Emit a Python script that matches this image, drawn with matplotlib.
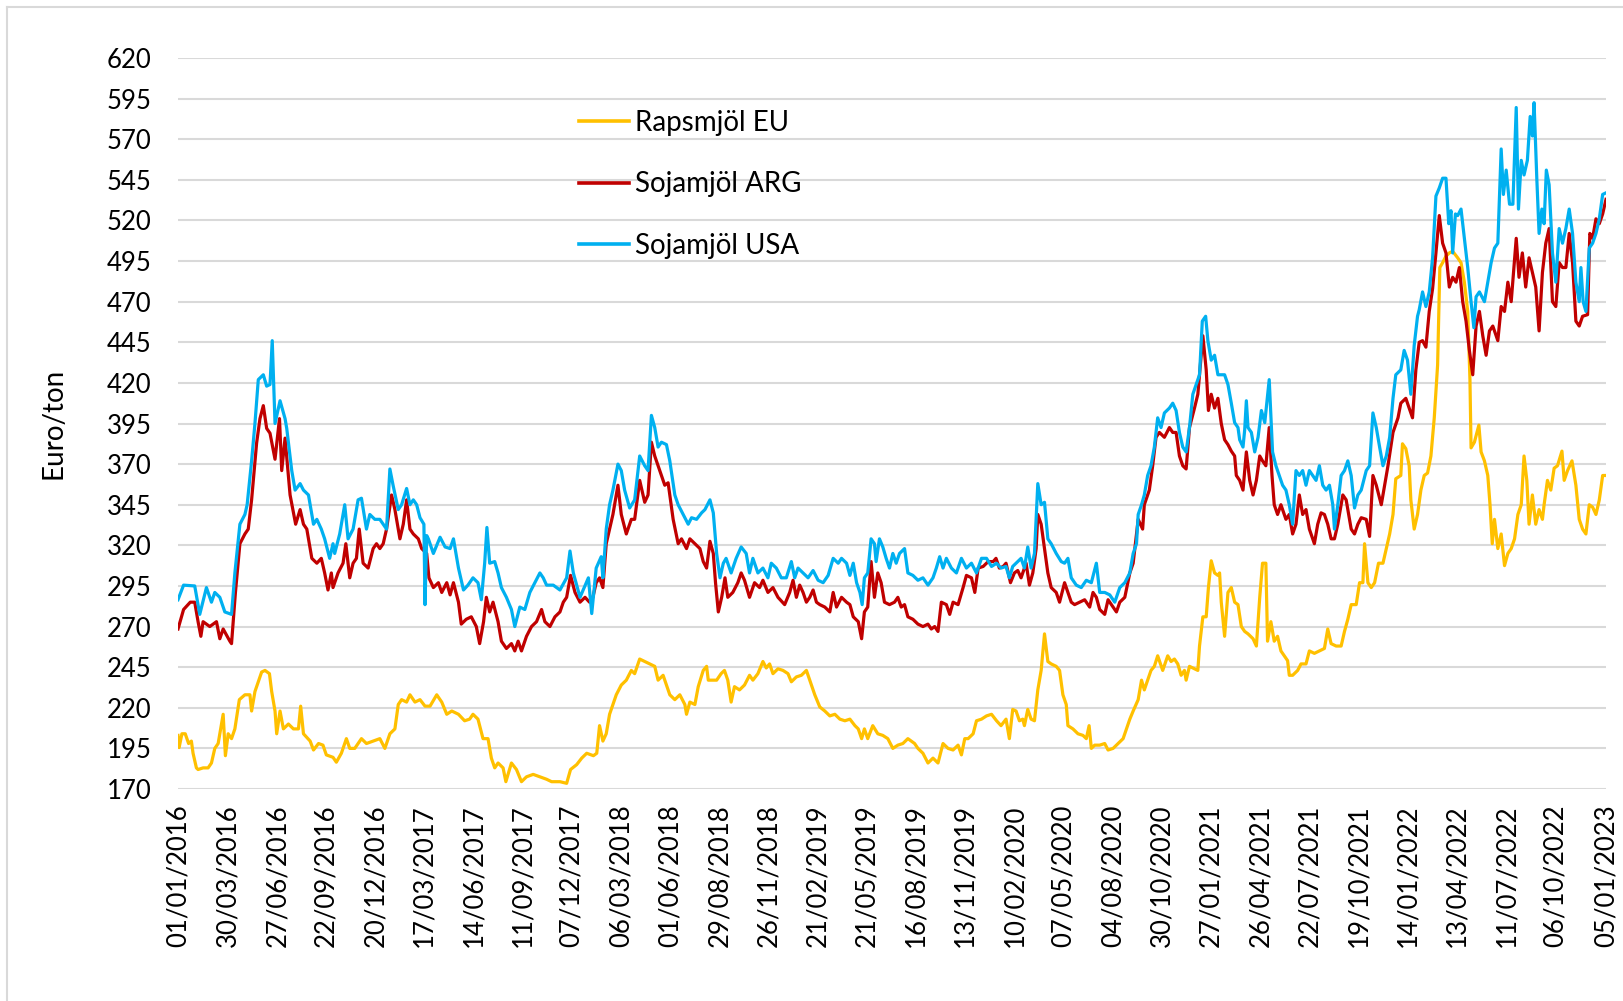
import matplotlib
matplotlib.use("Agg")
import matplotlib.pyplot as plt
import pandas as pd
from matplotlib.lines import Line2D

plt.rcParams['font.family'] = ['Lato', 'DejaVu Sans']

# ---------------- data (day = days since 01/01/2016) ----------------
tick_labels = ["01/01/2016", "30/03/2016", "27/06/2016", "22/09/2016", "20/12/2016",
               "17/03/2017", "14/06/2017", "11/09/2017", "07/12/2017", "06/03/2018",
               "01/06/2018", "29/08/2018", "26/11/2018", "21/02/2019", "21/05/2019",
               "16/08/2019", "13/11/2019", "10/02/2020", "07/05/2020", "04/08/2020",
               "30/10/2020", "27/01/2021", "26/04/2021", "22/07/2021", "19/10/2021",
               "14/01/2022", "13/04/2022", "11/07/2022", "06/10/2022", "05/01/2023"]
y_ticks = list(range(170, 621, 25))

usa_day = [0, 10, 30, 39, 51, 60, 66, 75, 84, 96, 102, 111, 120, 124, 132, 138, 144, 153, 159, 165,
           169, 174, 183, 192, 195, 204, 210, 219, 225, 234, 243, 249, 257, 263, 272, 278, 281, 290, 299, 305,
           314, 323, 329, 338, 344, 353, 362, 368, 374, 380, 386, 395, 401, 410, 416, 422, 428, 434, 441, 443,
           446, 449, 458, 470, 479, 488, 494, 503, 512, 520, 529, 538, 544, 550, 554, 559, 568, 574, 580, 589,
           598, 604, 613, 622, 631, 640, 649, 655, 661, 673, 685, 697, 703, 709, 721, 736, 742, 750, 759, 762,
           768, 774, 780, 789, 795, 801, 810, 819, 828, 837, 843, 849, 855, 861, 867, 876, 882, 891, 897, 906,
           915, 921, 930, 939, 945, 954, 960, 966, 972, 978, 983, 992, 1001, 1010, 1019, 1025, 1031, 1040, 1049, 1058,
           1064, 1073, 1082, 1091, 1100, 1106, 1112, 1121, 1130, 1139, 1148, 1157, 1166, 1175, 1184, 1190, 1199, 1205, 1211, 1217,
           1223, 1227, 1231, 1237, 1243, 1249, 1252, 1258, 1264, 1270, 1276, 1282, 1288, 1294, 1303, 1309, 1318, 1327, 1336, 1345,
           1354, 1360, 1366, 1372, 1378, 1387, 1396, 1405, 1414, 1423, 1432, 1441, 1450, 1459, 1468, 1476, 1485, 1491, 1497, 1506,
           1512, 1518, 1524, 1530, 1536, 1542, 1548, 1554, 1560, 1566, 1575, 1584, 1590, 1596, 1602, 1611, 1620, 1629, 1638, 1647,
           1653, 1662, 1671, 1680, 1689, 1698, 1707, 1713, 1719, 1722, 1728, 1733, 1739, 1745, 1751, 1757, 1763, 1769, 1778, 1784,
           1790, 1796, 1802, 1808, 1814, 1820, 1826, 1832, 1837, 1843, 1847, 1853, 1859, 1865, 1871, 1877, 1883, 1889, 1895, 1901,
           1904, 1910, 1913, 1916, 1919, 1925, 1931, 1937, 1943, 1949, 1957, 1963, 1969, 1975, 1981, 1987, 1993, 1999, 2005, 2011,
           2017, 2023, 2029, 2035, 2041, 2047, 2053, 2059, 2065, 2071, 2074, 2080, 2086, 2092, 2098, 2104, 2110, 2116, 2122, 2131,
           2137, 2143, 2149, 2155, 2161, 2167, 2173, 2179, 2184, 2193, 2199, 2205, 2211, 2217, 2223, 2226, 2232, 2238, 2244, 2250,
           2256, 2262, 2268, 2274, 2279, 2283, 2286, 2291, 2295, 2301, 2307, 2313, 2319, 2324, 2328, 2334, 2343, 2349, 2355, 2361,
           2367, 2373, 2377, 2382, 2388, 2394, 2400, 2404, 2409, 2414, 2420, 2425, 2429, 2432, 2437, 2441, 2446, 2450, 2454, 2459,
           2465, 2471, 2477, 2483, 2489, 2495, 2501, 2507, 2513, 2516, 2520, 2525, 2531, 2537, 2543, 2549, 2555, 2561]
usa_val = [286.5, 295.5, 295, 277.5, 294, 285, 291, 288, 279, 277.5, 303, 333, 339, 345, 372, 395, 422, 425, 418, 419,
           446, 395, 409, 398, 392, 366, 354, 358, 354, 351, 333, 336, 330, 324, 312, 321, 315, 327, 345, 324,
           330, 348, 349, 330, 339, 336, 336, 333, 330, 367, 356.5, 342, 345, 355, 345, 348, 345, 337, 333, 283.5,
           326, 324, 315, 325, 319, 318, 324, 306, 292.5, 295.5, 300, 297, 286.5, 309, 331, 309, 310, 303, 294, 288,
           280.5, 270, 282, 280.5, 291, 297, 303, 300, 295.5, 295.5, 292.5, 300, 316.5, 303, 288, 300, 278, 306, 313, 300,
           330, 345, 354, 370, 366, 354, 343, 348, 375, 369, 366, 400, 392.5, 380.5, 383.5, 382, 372, 351, 345, 339,
           333, 337, 336, 340, 342, 348, 340, 315, 300, 309, 312, 303, 312, 319, 315, 303, 312, 303, 306, 300,
           309, 306, 300, 300, 310, 300, 306, 303, 300, 304.5, 298.5, 297, 301.5, 312, 309, 312, 309, 301.5, 309, 297,
           291, 283.5, 300, 303, 324, 321, 310, 324, 319, 312, 306, 315, 309, 315, 318, 303, 301.5, 298.5, 300, 295.5,
           300, 306, 313, 306, 312, 306, 303, 312, 306, 309, 303, 312, 312, 307, 309, 306, 307, 300, 307, 310,
           312, 306, 319, 306, 315, 358, 345, 346.5, 324, 321, 315, 310, 309, 312, 300, 295.5, 294, 298.5, 297, 309,
           291, 291, 289.5, 285, 294, 297, 303, 315, 321, 339, 345, 351, 363, 369, 380.5, 398.5, 392.5, 401.5, 404.5, 407.5,
           403, 389.5, 380.5, 377.5, 392.5, 413, 419, 425, 458, 461, 446, 434, 437, 425, 425, 425, 419, 407.5, 395.5, 392.5,
           385, 380.5, 391, 409, 392.5, 389.5, 377.5, 386.5, 403, 395.5, 422, 377.5, 369, 363, 357, 354, 345, 333, 366, 363,
           366, 357, 366, 363, 360, 369, 357, 354, 357, 345, 330, 345, 363, 366, 372, 363, 343, 351, 354, 366,
           369, 401.5, 392.5, 380.5, 369, 375, 386.5, 410.5, 425, 428, 440, 434, 413, 443, 461, 465, 476, 467, 476, 497,
           535, 540, 546, 546, 518, 526, 500, 524, 523, 527, 509, 491, 470, 454, 473, 476, 470, 482, 494, 503,
           506, 564, 536, 551, 530, 530, 589.5, 527, 557, 548, 557, 584, 572, 592.5, 545, 512, 527, 518, 551, 542,
           500, 482, 515, 506, 515, 527, 512, 482, 470, 491, 470, 464, 503, 506, 512, 521, 536, 537]

arg_day = [0, 10, 22, 30, 36, 41, 45, 57, 69, 75, 81, 93, 96, 103, 111, 120, 126, 132, 141, 147,
           153, 159, 165, 174, 182, 186, 192, 201, 211, 219, 225, 231, 240, 249, 257, 263, 269, 275, 278, 287,
           296, 301, 308, 314, 320, 325, 332, 341, 350, 356, 362, 368, 374, 383, 389, 398, 404, 410, 416, 422,
           431, 437, 446, 450, 458, 467, 473, 482, 488, 494, 503, 508, 517, 526, 535, 541, 548, 553, 559, 565,
           574, 580, 589, 598, 604, 610, 616, 625, 634, 643, 652, 658, 667, 676, 685, 691, 697, 704, 712, 721,
           730, 738, 744, 750, 756, 762, 768, 774, 780, 789, 795, 804, 813, 819, 828, 837, 843, 849, 855, 864,
           873, 879, 888, 897, 903, 912, 918, 927, 936, 942, 948, 954, 960, 964, 969, 975, 981, 986, 995, 1004,
           1010, 1016, 1025, 1034, 1043, 1049, 1058, 1067, 1076, 1088, 1097, 1103, 1109, 1115, 1121, 1127, 1133, 1139, 1145, 1151,
           1160, 1169, 1175, 1181, 1190, 1199, 1205, 1211, 1220, 1226, 1231, 1237, 1243, 1249, 1255, 1261, 1267, 1276, 1285, 1291,
           1297, 1303, 1309, 1318, 1327, 1336, 1345, 1351, 1357, 1363, 1369, 1378, 1384, 1390, 1399, 1408, 1414, 1423, 1429, 1435,
           1444, 1453, 1462, 1467, 1473, 1480, 1485, 1493, 1500, 1506, 1512, 1521, 1527, 1533, 1539, 1542, 1548, 1554, 1560, 1566,
           1575, 1581, 1590, 1596, 1602, 1608, 1617, 1626, 1635, 1641, 1647, 1653, 1662, 1668, 1674, 1683, 1689, 1698, 1707, 1713,
           1722, 1730, 1733, 1742, 1748, 1754, 1760, 1769, 1778, 1784, 1790, 1796, 1802, 1808, 1814, 1823, 1829, 1838, 1844, 1848,
           1853, 1859, 1865, 1871, 1877, 1883, 1889, 1895, 1898, 1904, 1910, 1916, 1922, 1928, 1934, 1940, 1945, 1951, 1957, 1962,
           1966, 1972, 1978, 1987, 1993, 1999, 2005, 2011, 2017, 2023, 2029, 2038, 2044, 2050, 2056, 2062, 2068, 2074, 2080, 2089,
           2095, 2104, 2110, 2116, 2122, 2131, 2137, 2143, 2149, 2158, 2164, 2170, 2179, 2188, 2193, 2202, 2208, 2214, 2220, 2226,
           2232, 2238, 2244, 2250, 2256, 2262, 2268, 2274, 2280, 2286, 2292, 2298, 2304, 2310, 2316, 2322, 2328, 2334, 2340, 2346,
           2352, 2358, 2367, 2373, 2379, 2385, 2391, 2400, 2405, 2411, 2417, 2423, 2429, 2435, 2441, 2447, 2453, 2459, 2465, 2471,
           2477, 2483, 2489, 2495, 2501, 2507, 2513, 2519, 2528, 2532, 2537, 2543, 2549, 2555, 2561]
arg_val = [268.5, 280.5, 285, 285, 273, 264, 273, 270, 273, 262.5, 268.5, 261, 259.5, 291, 321, 327, 330, 348, 383, 398,
           406, 392, 389, 373, 398, 366, 386, 351, 333, 342, 333, 330, 312, 309, 312, 303, 292.5, 303, 294, 303,
           309, 321, 300, 309, 312, 330, 309, 306, 318, 321, 318, 321, 330, 351, 342, 324, 333, 348, 330, 327,
           324, 318, 315, 300, 294, 297, 291, 297, 289.5, 297, 285, 271.5, 274.5, 276, 270, 259.5, 273, 288, 279, 285,
           273, 261, 256.5, 259.5, 255, 261, 255, 264, 270, 273, 280.5, 273, 270, 276, 279, 285, 288, 301.5, 291, 285,
           288, 285, 288, 297, 300, 294, 321, 330, 339, 357, 339, 327, 336, 336, 360, 346.5, 351, 383.5, 375, 366,
           357, 358.5, 336, 321, 324, 318, 324, 321, 318, 310, 306, 322.5, 315, 297, 279, 288, 300, 288, 291, 297,
           303, 298.5, 288, 297, 294, 298.5, 291, 294, 288, 283.5, 291, 298.5, 288, 295.5, 291, 285, 288, 292.5, 285, 283.5,
           282, 279, 291, 282, 288, 285, 283.5, 276, 273, 262.5, 279, 282, 310, 288, 303, 297, 285, 283.5, 285, 288,
           282, 283.5, 276, 274.5, 271.5, 270, 271.5, 268.5, 270, 267, 285, 283.5, 277.5, 285, 283.5, 294, 301.5, 300, 291, 306,
           307, 310, 310, 312, 306, 307, 309, 297, 303, 304.5, 300, 309, 295.5, 303, 318, 339, 333, 318, 303, 294,
           291, 285, 297, 291, 285, 283.5, 285, 286.5, 282, 291, 288, 280.5, 277.5, 286.5, 283.5, 279, 285, 288, 303, 309,
           336, 330, 345, 354, 369, 386.5, 389.5, 386.5, 392.5, 389.5, 389.5, 375, 369, 367, 392.5, 404.5, 413, 449, 428, 403,
           413, 404.5, 410.5, 395, 385, 382, 378, 375, 363, 360, 354, 377.5, 360, 351, 360, 375, 372, 369, 392.5, 363,
           345, 339, 345, 336, 339, 327, 333, 351, 339, 342, 330, 321, 333, 340, 339, 333, 324, 324, 333, 351,
           348, 330, 327, 333, 337, 336, 325.5, 363, 357, 345, 357, 369, 389.5, 398.5, 407.5, 410.5, 404.5, 398.5, 428, 445,
           446, 442, 464, 478, 500, 523, 506, 500, 479, 485, 482, 491, 470, 458, 440, 425, 455, 464, 449, 437,
           452, 455, 446, 467, 464, 482, 470, 509, 485, 500, 479, 497, 488, 479, 452, 488, 506, 515, 470, 467,
           494, 491, 491, 512, 494, 458, 455, 461, 462, 512, 509, 521, 518, 524, 533]

eu_day = [0, 2, 7, 13, 19, 24, 27, 33, 36, 45, 54, 60, 66, 72, 81, 85, 90, 96, 102, 110,
          120, 129, 132, 138, 150, 156, 164, 168, 174, 177, 183, 189, 198, 207, 216, 220, 225, 237, 243, 252,
          260, 266, 278, 284, 293, 302, 308, 317, 329, 338, 350, 362, 371, 380, 389, 395, 401, 410, 416, 425,
          434, 443, 452, 464, 473, 482, 491, 503, 514, 523, 529, 538, 547, 556, 562, 568, 574, 583, 588, 598,
          607, 616, 625, 637, 649, 661, 670, 685, 697, 704, 715, 724, 733, 745, 751, 756, 762, 768, 774, 780,
          786, 795, 804, 813, 819, 828, 837, 846, 855, 861, 870, 882, 891, 900, 909, 912, 918, 927, 933, 942,
          948, 951, 957, 966, 974, 980, 986, 992, 998, 1007, 1016, 1025, 1031, 1040, 1049, 1055, 1061, 1067, 1076, 1085,
          1094, 1100, 1109, 1118, 1127, 1133, 1142, 1151, 1160, 1169, 1178, 1187, 1196, 1205, 1214, 1220, 1226, 1231, 1237, 1246,
          1255, 1264, 1273, 1282, 1291, 1300, 1309, 1321, 1327, 1336, 1345, 1354, 1363, 1372, 1381, 1390, 1399, 1405, 1411, 1417,
          1426, 1432, 1441, 1450, 1459, 1468, 1476, 1485, 1491, 1497, 1503, 1509, 1515, 1518, 1524, 1530, 1536, 1542, 1548, 1554,
          1560, 1566, 1575, 1581, 1587, 1593, 1596, 1605, 1614, 1623, 1629, 1634, 1638, 1644, 1653, 1662, 1668, 1677, 1686, 1695,
          1701, 1707, 1713, 1722, 1728, 1733, 1739, 1745, 1751, 1757, 1766, 1775, 1781, 1787, 1793, 1799, 1805, 1808, 1814, 1823,
          1829, 1832, 1838, 1844, 1848, 1853, 1859, 1865, 1868, 1871, 1877, 1883, 1889, 1895, 1901, 1907, 1913, 1919, 1928, 1934,
          1940, 1945, 1951, 1954, 1960, 1966, 1972, 1978, 1984, 1990, 1993, 1999, 2008, 2014, 2023, 2029, 2038, 2047, 2056, 2062,
          2068, 2077, 2086, 2092, 2098, 2104, 2113, 2119, 2125, 2128, 2134, 2140, 2146, 2153, 2161, 2167, 2173, 2179, 2184, 2193,
          2196, 2202, 2208, 2211, 2217, 2223, 2229, 2235, 2241, 2247, 2253, 2259, 2263, 2268, 2274, 2280, 2286, 2295, 2301, 2307,
          2313, 2317, 2319, 2325, 2333, 2337, 2343, 2349, 2353, 2357, 2361, 2367, 2373, 2379, 2385, 2391, 2397, 2403, 2409, 2414,
          2419, 2423, 2429, 2435, 2441, 2447, 2450, 2456, 2462, 2468, 2474, 2482, 2486, 2492, 2500, 2507, 2513, 2519, 2525, 2531,
          2537, 2543, 2549, 2555, 2561]
eu_val = [203, 195.5, 204, 204, 198, 199.5, 192, 183, 182, 183, 183, 186, 195, 198, 216, 190.5, 204, 201, 207, 225,
          228, 228, 218, 230, 242, 243, 241, 230, 218, 204, 218, 207, 210, 207, 207, 221, 204, 199.5, 194, 198,
          197, 191, 189.5, 186.5, 192, 201, 195, 195, 201, 198, 199.5, 201, 195, 204, 207, 222, 225, 223.5, 228, 223.5,
          225, 221, 221, 228, 223.5, 216, 218, 216, 212, 213, 216, 213, 201, 201, 189, 183, 186, 183, 174.5, 186,
          182, 174.5, 177.5, 179, 177.5, 176, 174.5, 174.5, 173.5, 182, 185, 189, 192, 190.5, 192, 209, 199.5, 204, 216, 222,
          228, 234, 237, 243, 241, 250, 248.5, 247, 245.5, 237, 240, 228, 225, 228, 222, 216, 223.5, 222, 233, 243,
          245.5, 237, 237, 237, 241, 243, 237, 223.5, 233, 231, 234, 240, 237, 241, 248.5, 244.5, 247, 241, 244, 243,
          241, 236, 239, 240, 243, 237, 228, 220.5, 218, 215, 216, 213, 212, 213, 209, 207, 201, 207, 201, 209,
          204, 203, 201, 195, 197, 198, 201, 198, 195, 192, 186, 189, 186, 198, 195, 194, 197, 191, 201, 201,
          204, 212, 213, 215, 216, 212, 209, 213, 201, 219, 218, 212, 213, 209, 219, 213, 212, 231, 243, 265.5,
          248.5, 247, 245.5, 243, 228, 222, 209, 207, 204, 203, 201, 209, 195, 197, 197, 198, 194, 195, 198, 201,
          207, 213, 218, 225, 237, 231, 237, 243, 245.5, 252, 243, 252, 248.5, 250, 247, 240, 243, 237, 245.5, 244,
          243, 258, 276, 276, 294, 310.5, 303, 301.5, 303, 285, 264, 291, 294, 285, 283.5, 270, 267, 265.5, 262.5, 258,
          288, 309, 309, 261, 273, 261, 264, 255, 252, 249, 240, 240, 243, 247, 247, 255, 253.5, 255, 256.5, 268.5,
          259.5, 258, 258, 267, 274.5, 283.5, 283.5, 297, 297, 321, 297, 294, 297, 309, 309, 318, 327, 339, 361, 363,
          382.5, 379.5, 369, 348, 330, 339, 354, 363, 364.5, 375, 398.5, 431, 491, 494, 498, 500, 501, 497, 494, 482,
          464, 422, 380, 383.5, 394, 377.5, 372, 363, 345, 321, 336, 318, 327, 307.5, 315, 318, 324, 339, 345, 375,
          360, 333, 351, 333, 342, 336, 345, 360, 354, 367.5, 369, 378, 360, 366, 372, 357, 336, 330, 327, 345,
          343.5, 339, 348, 363, 363]

# ---------------- figure ----------------
W, H = 1623, 1001
fig = plt.figure(figsize=(W / 100, H / 100), dpi=100)
ax = fig.add_axes([178 / W, 1 - 789 / H, (1606 - 178) / W, (789 - 58) / H])

start = pd.Timestamp("2016-01-01")
tick_days = [(pd.to_datetime(t, format="%d/%m/%Y") - start).days for t in tick_labels]

c_eu, c_arg, c_usa = "#FFC000", "#C00000", "#00B0F0"
lw = 2.3
ax.plot(eu_day, eu_val, color=c_eu, lw=lw, solid_joinstyle="round")
ax.plot(arg_day, arg_val, color=c_arg, lw=lw, solid_joinstyle="round")
ax.plot(usa_day, usa_val, color=c_usa, lw=lw, solid_joinstyle="round")

ax.set_xlim(0, tick_days[-1])
ax.set_ylim(170, 620)
ax.set_yticks(y_ticks)
ax.set_xticks(tick_days)
ax.set_xticklabels(tick_labels, rotation=90)
ax.tick_params(axis="both", length=0, labelsize=18.5, colors="black")
ax.tick_params(axis="y", pad=19)
ax.tick_params(axis="x", pad=11)
ax.grid(axis="y", color="#d9d9d9", lw=1.5)
ax.set_axisbelow(True)
for s in ax.spines.values():
    s.set_visible(False)

ax.set_ylabel("Euro/ton", fontsize=20, labelpad=29)

handles = [Line2D([], [], color=c_eu, lw=2.6),
           Line2D([], [], color=c_arg, lw=2.6),
           Line2D([], [], color=c_usa, lw=2.6)]
fig.legend(handles, ["Rapsmjöl EU", "Sojamjöl ARG", "Sojamjöl USA"],
           loc="upper left", bbox_to_anchor=(579 / W, 1 - 110 / H),
           frameon=False, fontsize=20, handlelength=1.8, handletextpad=0.2,
           labelspacing=1.27, borderpad=0, borderaxespad=0)

# chart-area border (top and left edges visible)
fig.add_artist(Line2D([7 / W, 1], [1 - 7 / H, 1 - 7 / H], color="#d9d9d9", lw=1.5))
fig.add_artist(Line2D([7 / W, 7 / W], [1 - 7 / H, 0], color="#d9d9d9", lw=1.5))

fig.savefig("out.png", dpi=100)
